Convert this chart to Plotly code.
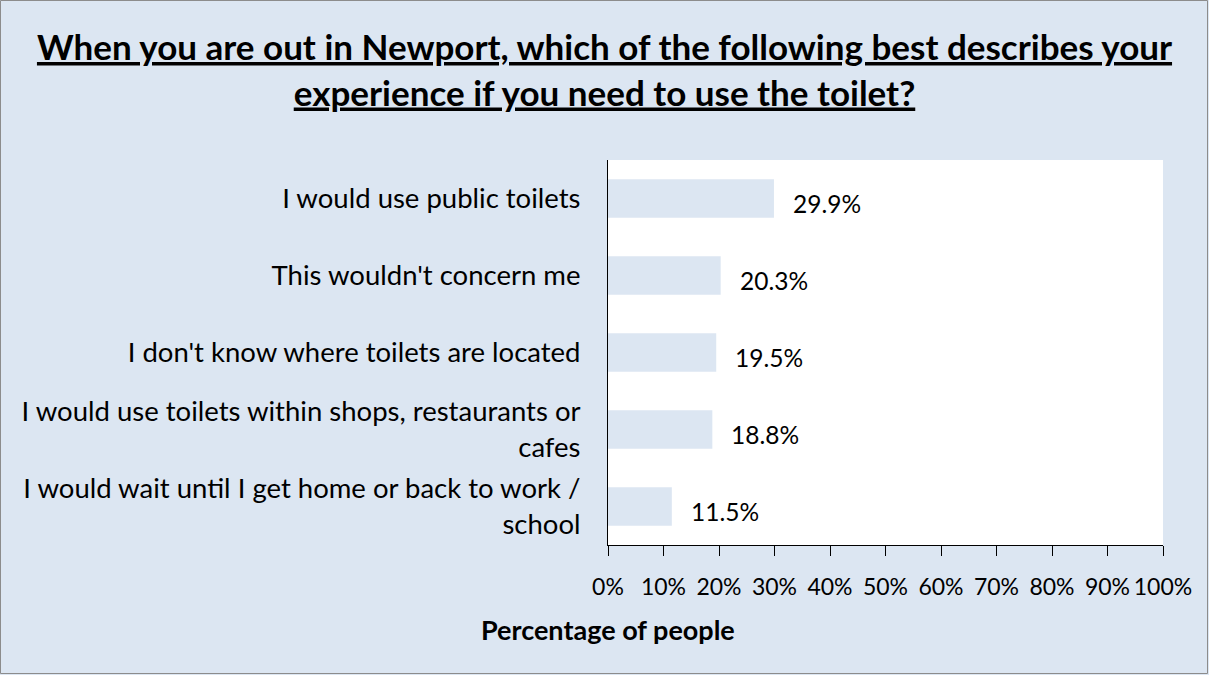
import plotly.graph_objects as go

categories = [
    "I would use public toilets",
    "This wouldn't concern me",
    "I don't know where toilets are located",
    "I would use toilets within shops, restaurants or<br>cafes",
    "I would wait until I get home or back to work /<br>school",
]
values = [29.9, 20.3, 19.5, 18.8, 11.5]
tick_vals = [0, 10, 20, 30, 40, 50, 60, 70, 80, 90, 100]
tick_text = [f"{v}%" for v in tick_vals]
x_title = "Percentage of people"

W, H = 1209, 675
L, R, T, B = 608, 46, 160, 130
pw, ph = W - L - R, H - T - B
bg = "#DCE6F2"
font = "Lato"

fig = go.Figure()
fig.add_trace(go.Bar(
    x=values, y=categories, orientation="h",
    marker=dict(color=bg, line=dict(width=0)),
    width=0.5, hoverinfo="skip",
))

for c, v in zip(categories, values):
    fig.add_annotation(x=v, y=c, text=f"{v}%", showarrow=False,
                       xanchor="left", xshift=17, yshift=-5,
                       font=dict(size=24.5, color="#000", family=font))

def px2x(p):
    return (p - L) / pw

def py2y(p):
    return 1 - (p - T) / ph

fig.add_annotation(xref="paper", yref="paper", x=px2x(608), y=py2y(629),
                   text=f"<b>{x_title}</b>", showarrow=False,
                   xanchor="center", yanchor="middle",
                   font=dict(size=27, color="#000", family=font))

fig.add_shape(type="rect", xref="paper", yref="paper",
              x0=px2x(0.5), x1=px2x(W - 1.5), y0=py2y(0.5), y1=py2y(H - 1.5),
              line=dict(color="#8c8c8c", width=1), layer="below")

fig.update_layout(
    width=W, height=H,
    margin=dict(l=L, r=R, t=T, b=B, pad=0),
    paper_bgcolor=bg, plot_bgcolor="white",
    showlegend=False,
    font=dict(family=font, color="#000"),
    title=dict(
        text="<b><u>When you are out in Newport, which of the following best describes your</u></b><br><b><u>experience if you need to use the toilet?</u></b>",
        x=0.5, xref="container", xanchor="center",
        y=1 - 60 / H, yref="container", yanchor="top",
        font=dict(size=35, family=font, color="#000"),
    ),
    xaxis=dict(
        range=[0, 100], tickvals=tick_vals, ticktext=tick_text, tickangle=0,
        ticks="outside", ticklen=10, tickcolor="#000", tickwidth=1,
        showline=True, linecolor="#000", linewidth=1,
        showgrid=False, zeroline=False, fixedrange=True,
        tickfont=dict(size=23, family=font), ticklabelstandoff=11,
    ),
    yaxis=dict(
        categoryorder="array", categoryarray=categories[::-1],
        showline=True, linecolor="#000", linewidth=1,
        ticks="", showgrid=False, zeroline=False,
        tickfont=dict(size=27.5, family=font), ticklabelstandoff=21,
    ),
)

fig.write_html("out.html", post_script="document.body.style.margin='0';",
               config={"displayModeBar": False})
